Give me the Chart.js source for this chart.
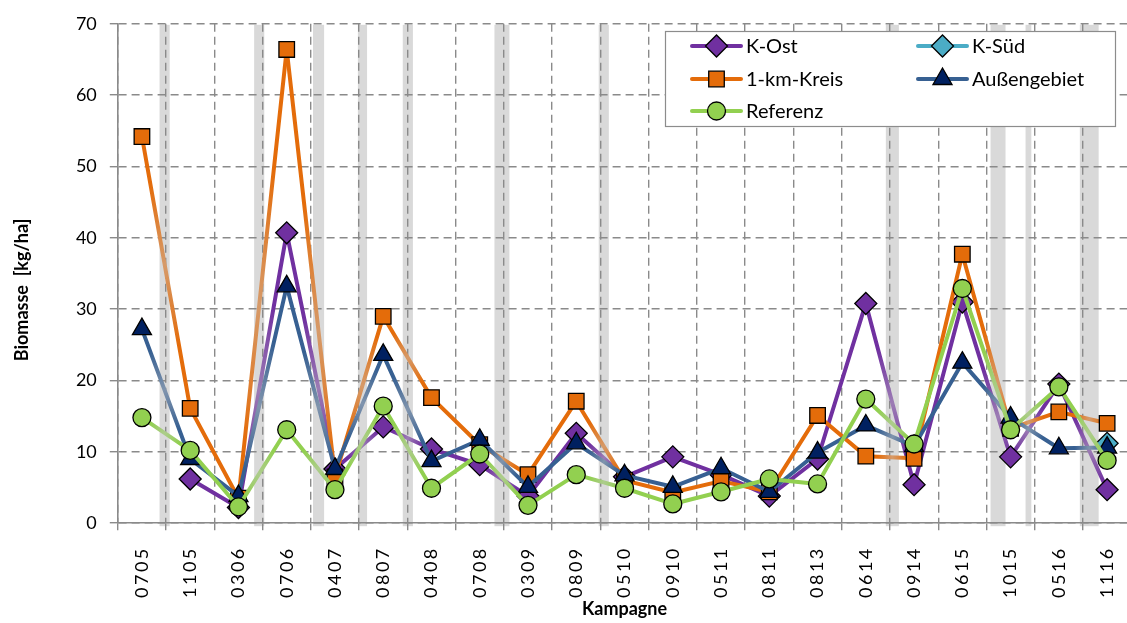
<!DOCTYPE html>
<html lang="de">
<head>
<meta charset="utf-8">
<title>Biomasse je Kampagne</title>
<script src="https://cdn.jsdelivr.net/npm/chart.js"></script>
<style>
  html, body { margin: 0; padding: 0; background: #fff; overflow: hidden; }
  #wrap { width: 1145px; height: 623px; }
</style>
</head>
<body>
<div id="wrap"><canvas id="biomasseChart" width="1145" height="623"></canvas></div>
<script>
const kampagnen = ["0705", "1105", "0306", "0706", "0407", "0807", "0408", "0708", "0309", "0809", "0510",
  "0910", "0511", "0811", "0813", "0614", "0914", "0615", "1015", "0516", "1116"];

const kOst = [null, 6.2, 2.2, 40.7, 7.6, 13.5, 10.4, 8.2, 3.8, 12.6, 6.5, 9.3, 6.8, 3.8, 9.0, 30.8, 5.4, 31.0, 9.3, 19.5, 4.7];
const kSued = [null, null, null, null, null, null, null, null, null, null, null, null, null, null, null, null, null, null, null, null, 11.2];
const kreis = [54.2, 16.1, 3.5, 66.4, 6.5, 29.0, 17.6, 11.0, 6.8, 17.1, 6.0, 4.3, 5.9, 4.4, 15.1, 9.4, 9.1, 37.7, 13.3, 15.6, 14.0];
const aussen = [27.2, 9.0, 3.8, 33.2, 7.6, 23.6, 8.7, 11.7, 5.1, 11.2, 6.7, 5.1, 7.7, 4.4, 9.9, 13.7, 10.8, 22.5, 14.8, 10.5, 10.6];
const referenz = [14.8, 10.2, 2.3, 13.1, 4.7, 16.4, 4.9, 9.7, 2.5, 6.8, 4.9, 2.7, 4.4, 6.2, 5.5, 17.4, 11.1, 32.9, 13.1, 19.1, 8.8];

// breaks between campaigns, in category units (grey bars)
const pausen = [0.47, 2.43, 3.66, 4.57, 5.51, 7.46, 9.57, 15.55, 17.74, 18.37, 19.63];
const pausenBreite = [0.21, 0.21, 0.23, 0.19, 0.21, 0.31, 0.21, 0.27, 0.31, 0.12, 0.39];

const yTicks = [0, 10, 20, 30, 40, 50, 60, 70];

const FONT = "Lato, 'Open Sans', sans-serif";

function mix(hex) {
  const n = parseInt(hex.slice(1), 16);
  const r = Math.round(((n >> 16) & 255) * 0.5 + 200 * 0.5);
  const g = Math.round(((n >> 8) & 255) * 0.5 + 200 * 0.5);
  const b = Math.round((n & 255) * 0.5 + 200 * 0.5);
  return `rgb(${r},${g},${b})`;
}

// segments that jump over a break get a faded middle
function fadeSegment(color) {
  return (ctx) => {
    const i = ctx.p0DataIndex;
    const j = ctx.p1DataIndex;
    const hit = pausen.find((p) => p > i && p < j);
    if (hit === undefined) return undefined;
    const t = (hit - i) / (j - i);
    const g = ctx.chart.ctx.createLinearGradient(ctx.p0.x, ctx.p0.y, ctx.p1.x, ctx.p1.y);
    g.addColorStop(0, color);
    g.addColorStop(Math.max(0, t - 0.3), color);
    g.addColorStop(t, mix(color));
    g.addColorStop(Math.min(1, t + 0.3), color);
    g.addColorStop(1, color);
    g.seg = i + "-" + j; // otherwise neighbouring gradient segments get merged
    return g;
  };
}

function serie(label, data, line, fill, style, radius, order) {
  return {
    label: label,
    data: data,
    borderColor: line,
    borderWidth: 4,
    borderJoinStyle: "round",
    borderCapStyle: "round",
    pointStyle: style,
    pointRadius: radius,
    pointHoverRadius: radius,
    pointBackgroundColor: fill,
    pointBorderColor: "#000",
    pointBorderWidth: 1.3,
    spanGaps: true,
    tension: 0,
    order: order,
    segment: { borderColor: fadeSegment(line) },
  };
}

const bandPlugin = {
  id: "pausen",
  beforeDraw(chart) {
    const { ctx, chartArea } = chart;
    const x = chart.scales.x;
    const step = x.getPixelForValue(1) - x.getPixelForValue(0);
    ctx.save();
    ctx.fillStyle = "#d9d9d9";
    pausen.forEach((p, i) => {
      const w = pausenBreite[i] * step;
      ctx.fillRect(x.getPixelForValue(p) - w / 2, chartArea.top + 1, w, chartArea.bottom - chartArea.top + 2);
    });
    ctx.restore();
  },
  afterLayout(chart) {
    const sc = chart.scales.x;
    if (sc._spaced) return;
    const orig = sc.drawLabels.bind(sc);
    sc.drawLabels = (area) => {
      chart.ctx.save();
      chart.ctx.letterSpacing = "2.5px";
      orig(area);
      chart.ctx.restore();
    };
    sc._spaced = true;
  },
};

const legendPlugin = {
  id: "kastenLegende",
  afterDraw(chart) {
    const ctx = chart.ctx;
    ctx.save();
    ctx.fillStyle = "#fff";
    ctx.fillRect(665, 31, 451, 96);
    ctx.strokeStyle = "#8c8c8c";
    ctx.lineWidth = 1.2;
    ctx.strokeRect(665.5, 31.5, 450, 95);
    const colX = [692, 918];
    const rowY = [46, 79, 111];
    chart.data.datasets.forEach((ds, k) => {
      const x0 = colX[k % 2];
      const y0 = rowY[Math.floor(k / 2)];
      ctx.strokeStyle = ds.borderColor;
      ctx.lineWidth = 4;
      ctx.lineCap = "round";
      ctx.beginPath();
      ctx.moveTo(x0, y0);
      ctx.lineTo(x0 + 49, y0);
      ctx.stroke();
      ctx.fillStyle = ds.pointBackgroundColor;
      ctx.strokeStyle = "#000";
      ctx.lineWidth = 1.3;
      Chart.helpers.drawPoint(ctx, { pointStyle: ds.pointStyle, radius: ds.pointRadius, rotation: 0, borderWidth: 1.3 }, x0 + 24.5, y0);
      ctx.fillStyle = "#000";
      ctx.font = "20px " + FONT;
      ctx.textBaseline = "middle";
      ctx.textAlign = "left";
      ctx.fillText(ds.label, x0 + 54, y0 + 1);
    });
    // y axis title
    ctx.translate(22.5, 290);
    ctx.rotate(-Math.PI / 2);
    ctx.font = "bold 18px " + FONT;
    ctx.textAlign = "center";
    ctx.fillStyle = "#000";
    ctx.fillText("Biomasse  [kg/ha]", 0, 0);
    ctx.restore();
  },
};

const gridColor = "#8a8a8a";

new Chart(document.getElementById("biomasseChart"), {
  type: "line",
  data: {
    labels: kampagnen,
    datasets: [
      serie("K-Ost", kOst, "#7030a0", "#7030a0", "rectRot", 11, 5),
      serie("K-Süd", kSued, "#4bacc6", "#4bacc6", "rectRot", 11, 4),
      serie("1-km-Kreis", kreis, "#e46c0a", "#e46c0a", "rect", 11, 3),
      serie("Außengebiet", aussen, "#376092", "#002060", "triangle", 11, 2),
      serie("Referenz", referenz, "#92d050", "#92d050", "circle", 9, 1),
    ],
  },
  options: {
    responsive: false,
    devicePixelRatio: 1,
    animation: false,
    layout: { padding: { left: 0, right: 9.5, top: 20.6, bottom: 0 } },
    plugins: {
      legend: { display: false },
      tooltip: { enabled: false },
    },
    scales: {
      x: {
        offset: true,
        grid: {
          offset: true,
          color: gridColor,
          lineWidth: 1.4,
          tickLength: 7,
          tickColor: gridColor,
          tickWidth: 1.4,
        },
        border: { color: gridColor, width: 1.6, dash: [8, 5] },
        ticks: {
          minRotation: 90,
          maxRotation: 90,
          autoSkip: false,
          padding: 16,
          color: "#000",
          font: { family: FONT, size: 18 },
        },
        title: {
          display: true,
          text: "Kampagne",
          color: "#000",
          padding: { top: 0, bottom: 3 },
          font: { family: FONT, size: 18, weight: "bold" },
        },
        afterFit(scale) {
          scale.height = 99.8;
        },
      },
      y: {
        min: 0,
        max: 70,
        afterBuildTicks(scale) {
          scale.ticks = yTicks.map((v) => ({ value: v }));
        },
        grid: {
          color: gridColor,
          lineWidth: 1.4,
          tickLength: 8,
          tickColor: gridColor,
          tickWidth: 1.4,
        },
        border: { color: gridColor, width: 1.6, dash: [8, 5] },
        ticks: {
          padding: 13,
          color: "#000",
          font: { family: FONT, size: 18 },
        },
        afterFit(scale) {
          scale.width = 117.8;
        },
      },
    },
  },
  plugins: [bandPlugin, legendPlugin],
});
</script>
</body>
</html>
